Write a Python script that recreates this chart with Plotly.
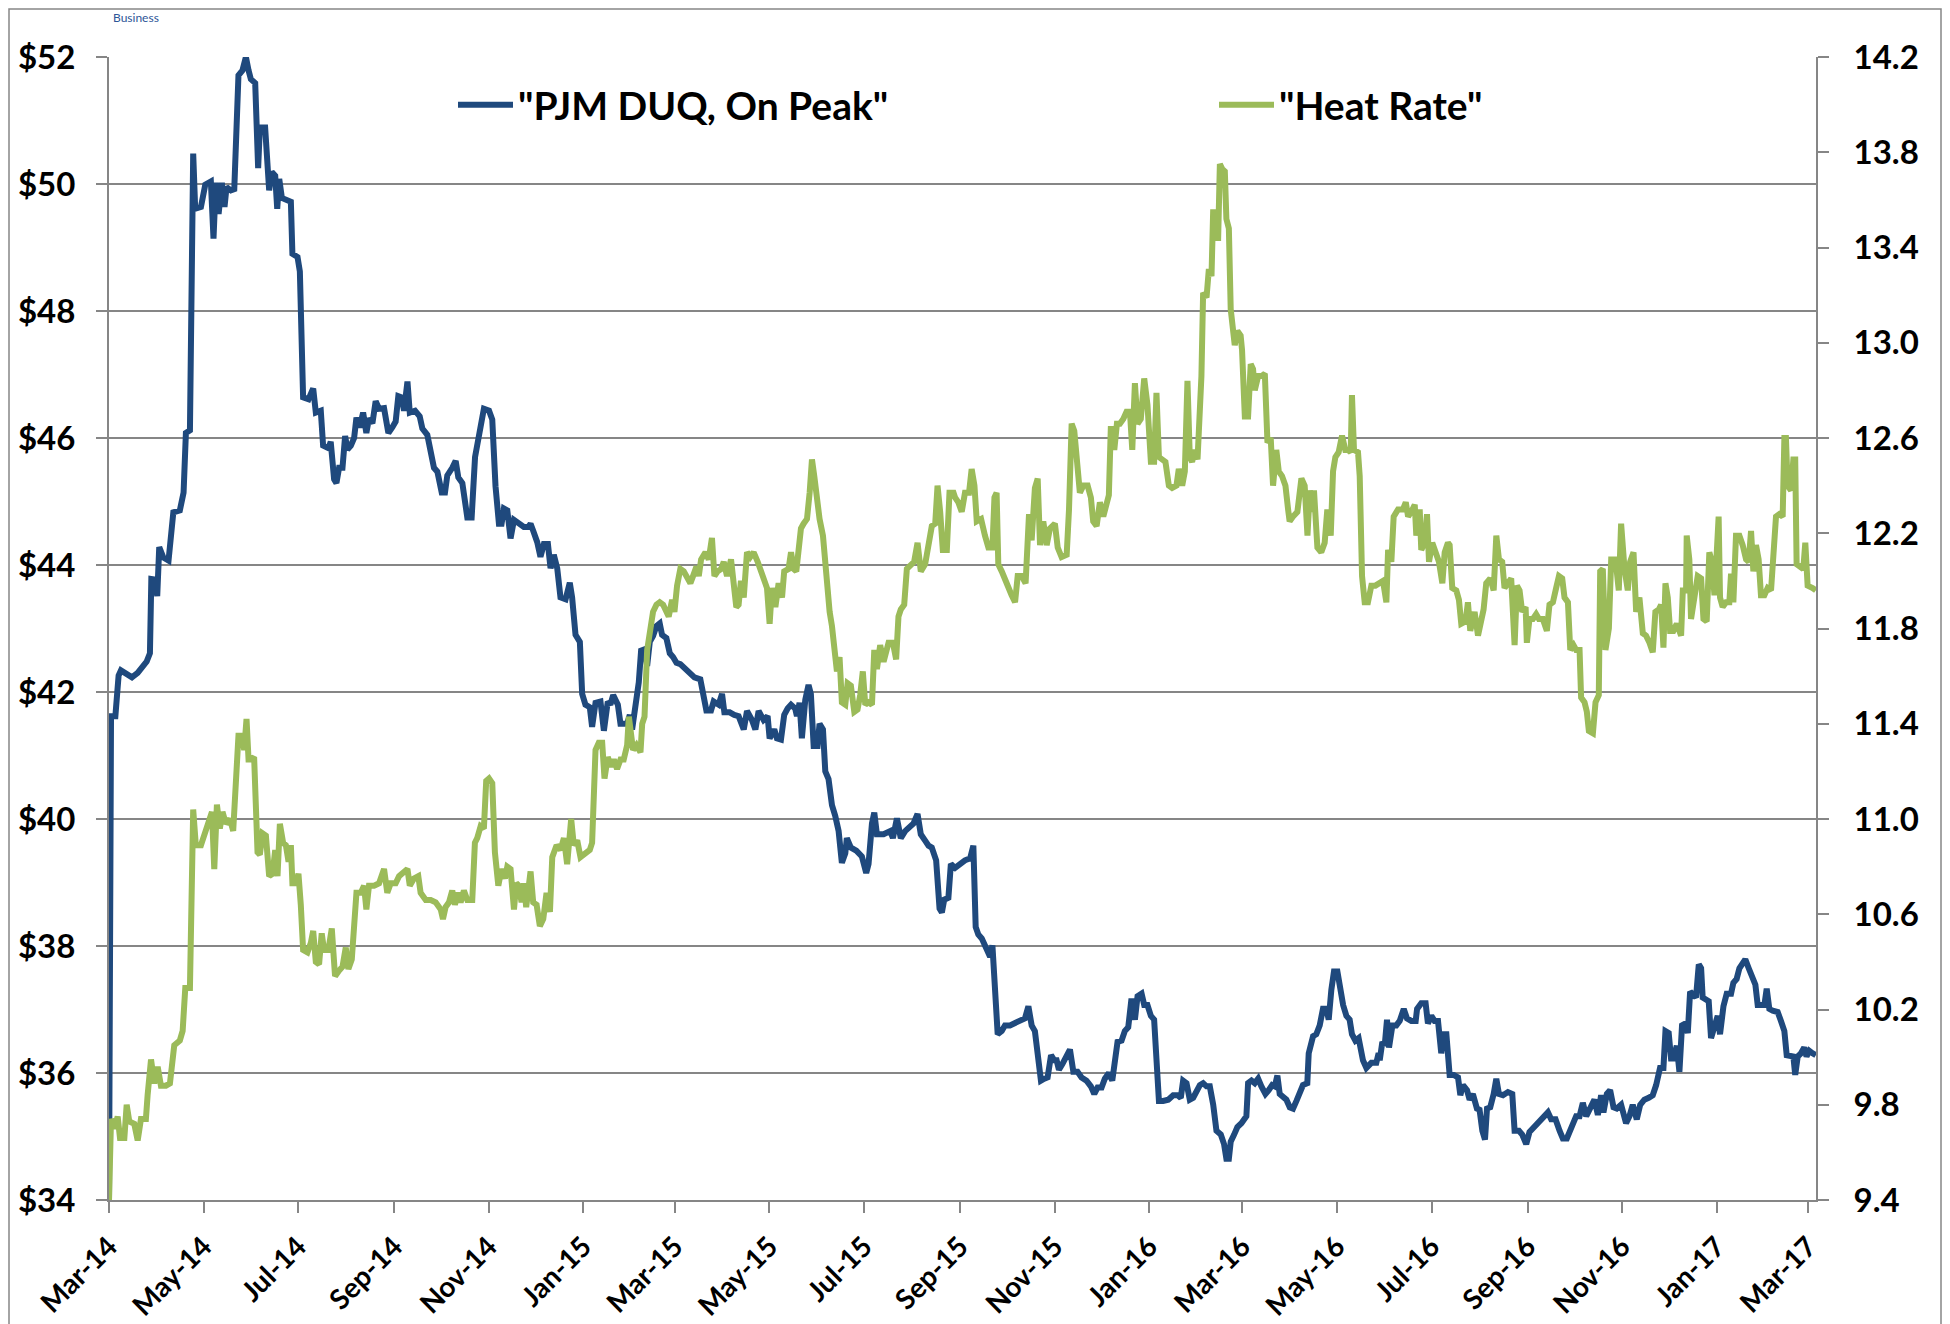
import numpy as np
import pandas as pd
import plotly.graph_objects as go

START = "2014-03-01"
END = "2017-03-06"

# ---- "PJM DUQ, On Peak" ($/MWh), day offset from START ----
pjm_days = [
    0, 1.3, 4.1, 6.2, 7.7, 11.0, 14.8, 18.5, 21.3, 24.3, 26.4, 27.3, 29.9, 31.1, 32.4, 35.0, 38.4, 41.5, 45.7, 48.1,
    49.6, 52.2, 54.3, 55.6, 59.3, 62.1, 65.7, 67.4, 68.9, 70.7, 72.8, 74.5, 75.8, 78.6, 80.8, 81.8, 83.5, 86.1, 88.3, 90.0,
    91.5, 94.3, 96.2, 97.3, 100.7, 103.3, 105.0, 107.2, 108.5, 109.8, 111.5, 117.3, 118.3, 121.6, 123.1, 125.2, 128.7, 131.7, 133.4, 136.6,
    138.1, 141.5, 143.0, 145.2, 146.7, 148.4, 150.6, 152.3, 153.8, 156.0, 158.1, 159.6, 161.7, 163.9, 166.0, 167.7, 169.9, 172.0, 174.2, 177.4,
    180.2, 182.8, 184.9, 186.6, 188.8, 190.3, 192.5, 194.0, 197.4, 200.4, 202.1, 205.3, 207.5, 209.6, 211.8, 214.6, 216.7, 218.2, 221.4, 223.6,
    225.3, 227.9, 231.1, 233.9, 236.1, 238.6, 241.8, 245.1, 247.2, 249.3, 251.5, 253.2, 254.7, 256.9, 259.0, 261.2, 264.4, 267.6, 270.4,
    271.9, 273.6, 276.2, 278.3, 280.5, 283.1, 284.8, 286.9, 289.1, 291.2, 294.5, 297.2, 298.7, 300.9, 303.7, 305.2, 307.3, 310.1, 311.6, 313.8,
    317.0, 319.2, 321.7, 323.4, 325.2, 328.2, 329.9, 334.2, 335.9, 337.4, 340.2, 341.7, 343.2, 345.4, 347.1, 348.8, 350.9, 353.1, 355.2, 356.7,
    359.5, 361.7, 363.8, 366.0, 368.5, 371.1, 374.6, 377.6, 381.4, 383.6, 385.3, 388.3, 390.0, 393.2, 395.4, 396.9, 400.3, 403.3, 406.1, 409.4,
    411.5, 414.7, 416.9, 419.0, 422.2, 424.8, 426.1, 429.1, 430.8, 433.4, 435.5, 437.7, 439.9, 442.6, 443.7, 445.4, 446.9, 449.1, 451.2, 452.7,
    454.5, 457.0, 458.3, 460.5, 462.0, 464.1, 466.3, 468.4, 470.6, 472.7, 474.9, 475.9, 478.5, 482.0, 485.6, 488.4, 489.9, 492.1, 493.6, 495.3,
    499.6, 503.9, 505.6, 508.2, 510.7, 513.5, 516.7, 518.9, 521.5, 523.6, 526.4, 528.6, 530.7, 533.5, 535.7, 537.2, 538.7, 541.4, 543.0,
    545.7, 548.9, 552.1, 555.4, 557.5, 559.0, 560.7, 562.9, 565.5, 568.3, 569.8, 571.5, 573.2, 575.8, 577.9, 581.1, 584.4, 587.6, 590.8, 593.0,
    595.1, 597.2, 599.4, 601.1, 603.3, 605.4, 607.6, 609.7, 611.2, 612.7, 614.9, 617.0, 619.8, 622.0, 624.7, 627.3, 630.5, 633.3, 635.5, 637.6,
    640.2, 642.3, 644.9, 647.1, 648.8, 650.5, 653.1, 655.2, 657.4, 659.5, 661.7, 663.4, 666.0, 667.7, 669.8, 672.0, 674.1, 675.6, 677.2, 679.9,
    683.2, 686.4, 689.2, 691.3, 692.8, 695.0, 697.1, 699.3, 701.4, 703.6, 705.7, 707.9, 710.0, 712.2, 714.3, 717.1, 719.2, 720.7, 722.3, 723.5,
    725.7, 727.8, 730.4, 733.6, 734.7, 736.9, 739.0, 741.2, 743.3, 745.9, 748.0, 750.2, 751.9, 753.6, 755.1, 757.3, 759.4, 761.6, 763.7, 765.9,
    768.0, 770.1, 772.9, 773.8, 776.6, 778.7, 780.9, 783.0, 785.2, 786.7, 788.4, 790.1, 792.3, 793.8, 796.0, 798.1, 800.2, 801.7, 803.9, 806.0,
    807.3, 808.8, 811.0, 814.2, 817.4, 818.9,
    819.6, 821.3, 822.8, 824.3, 825.6, 827.8, 830.3, 832.5, 835.1, 837.2, 840.0, 842.8, 843.7, 846.4, 849.2, 850.7, 852.9, 855.0, 857.2, 859.3,
    860.8, 862.6, 864.7, 867.3, 870.1, 871.6, 873.3, 875.9, 877.6, 879.7, 882.3, 884.0, 885.8, 887.5, 888.8, 890.9, 893.1, 894.8, 896.5, 899.1,
    902.3, 905.1, 906.6, 909.4, 911.5, 914.1, 916.2, 919.5, 922.3, 924.8, 928.1, 930.2, 933.0, 935.6, 937.7, 940.3, 943.1, 946.3, 948.5, 950.6,
    952.8, 955.3, 958.1, 960.3, 962.4, 963.9, 966.1, 968.2, 970.4, 972.5, 975.3, 978.5, 980.7, 982.8, 985.4, 987.6, 990.3, 993.1, 995.7, 997.9,
    1000.4, 1002.6, 1003.9, 1006.0, 1007.5, 1009.0, 1011.2, 1012.9, 1014.6, 1016.8, 1018.3, 1019.8, 1021.9, 1023.6, 1025.4, 1026.9, 1027.9, 1030.1, 1031.8, 1033.3,
    1035.5, 1037.6, 1039.1, 1041.3, 1043.4, 1046.2, 1047.7, 1049.8, 1051.6, 1053.7, 1055.4, 1057.6, 1059.7, 1061.9, 1063.4, 1065.5, 1067.7, 1069.2, 1070.9, 1073.1,
    1076.3, 1078.4, 1080.6, 1082.1, 1084.9, 1086.4, 1087.6, 1089.2, 1091.3, 1093.4, 1094.9, 1096.7, 1098.8, 1100.9,
]
pjm_price = [
    34.00, 41.62, 41.62, 42.26, 42.34, 42.29, 42.23, 42.30, 42.40, 42.48, 42.61, 43.78, 43.77, 43.51, 44.28, 44.12, 44.07, 44.83, 44.86, 45.14,
    46.08, 46.12, 50.48, 49.61, 49.64, 49.99, 50.04, 49.14, 50.02, 49.53, 50.02, 49.64, 49.95, 49.90, 49.92, 50.83, 51.71, 51.79, 52.00, 51.79,
    51.65, 51.59, 50.25, 50.89, 50.89, 49.90, 50.19, 50.13, 49.61, 50.08, 49.78, 49.72, 48.90, 48.85, 48.62, 46.64, 46.61, 46.78, 46.40, 46.43,
    45.88, 45.84, 45.94, 45.35, 45.29, 45.53, 45.53, 46.03, 45.82, 45.88, 46.00, 46.32, 46.17, 46.40, 46.08, 46.31, 46.23, 46.58, 46.46, 46.47,
    46.08, 46.17, 46.26, 46.66, 46.64, 46.43, 46.89, 46.40, 46.43, 46.34, 46.15, 46.05, 45.76, 45.53, 45.47, 45.14, 45.14, 45.41, 45.53, 45.64,
    45.38, 45.29, 44.75, 44.75, 45.70, 46.05, 46.46, 46.43, 46.29, 45.24, 44.65, 44.65, 44.89, 44.86, 44.42, 44.71, 44.65, 44.60, 44.60,
    44.65, 44.54, 44.36, 44.13, 44.33, 44.33, 43.95, 44.16, 43.95, 43.49, 43.46, 43.72, 43.49, 42.90, 42.79, 41.97, 41.80, 41.76, 41.45, 41.83,
    41.85, 41.39, 41.85, 41.80, 41.95, 41.80, 41.50, 41.50, 41.64, 41.41, 41.91, 42.15, 42.65, 42.67, 42.41, 42.79, 42.88, 43.04, 43.08, 42.90,
    42.85, 42.61, 42.55, 42.46, 42.44, 42.38, 42.29, 42.23, 42.20, 41.97, 41.71, 41.71, 41.85, 41.80, 41.97, 41.68, 41.68, 41.64, 41.62, 41.41,
    41.70, 41.56, 41.41, 41.70, 41.56, 41.62, 41.27, 41.41, 41.27, 41.25, 41.64, 41.74, 41.80, 41.74, 41.62, 41.83, 41.27, 41.88, 42.11, 41.97,
    41.15, 41.15, 41.50, 41.41, 40.75, 40.63, 40.22, 40.05, 39.81, 39.31, 39.46, 39.70, 39.55, 39.50, 39.41, 39.15, 39.29, 39.93, 40.10, 39.76,
    39.76, 39.81, 39.70, 40.01, 39.70, 39.81, 39.90, 39.93, 40.08, 39.76, 39.66, 39.58, 39.55, 39.35, 38.59, 38.53, 38.73, 38.76, 39.29,
    39.23, 39.29, 39.35, 39.38, 39.58, 38.30, 38.18, 38.12, 37.95, 37.83, 38.01, 37.25, 36.61, 36.66, 36.75, 36.75, 36.78, 36.82, 36.86, 37.05,
    36.75, 36.66, 36.26, 35.88, 35.91, 35.93, 36.28, 36.20, 36.20, 36.05, 36.14, 36.26, 36.37, 36.02, 36.02, 35.93, 35.88, 35.79, 35.67, 35.77,
    35.77, 35.91, 36.00, 35.88, 36.20, 36.49, 36.51, 36.66, 36.72, 37.17, 36.84, 37.21, 37.25, 37.07, 37.07, 36.90, 36.84, 36.31, 35.56, 35.56,
    35.58, 35.65, 35.65, 35.61, 35.88, 35.84, 35.58, 35.61, 35.73, 35.81, 35.84, 35.79, 35.79, 35.50, 35.09, 35.03, 34.88, 34.65, 34.65, 34.92,
    35.03, 35.15, 35.21, 35.32, 35.84, 35.88, 35.84, 35.91, 35.79, 35.67, 35.73, 35.81, 35.79, 35.96, 35.67, 35.61, 35.58, 35.46, 35.44, 35.56,
    35.70, 35.81, 35.84, 36.31, 36.58, 36.61, 36.75, 37.01, 37.01, 36.84, 37.31, 37.60, 37.60, 37.36, 37.07, 36.90, 36.84, 36.61, 36.51, 36.55,
    36.37, 36.20, 36.08, 36.16, 36.16, 36.31,
    36.20, 36.49, 36.43, 36.84, 36.40, 36.75, 36.75, 36.82, 37.01, 36.86, 36.82, 36.82, 37.01, 37.10, 37.10, 36.78, 36.90, 36.82, 36.82, 36.31,
    36.61, 36.61, 35.97, 35.97, 35.93, 35.65, 35.81, 35.73, 35.58, 35.67, 35.44, 35.42, 35.09, 34.95, 35.44, 35.46, 35.67, 35.91, 35.67, 35.65,
    35.70, 35.67, 35.09, 35.09, 35.03, 34.88, 35.07, 35.15, 35.23, 35.27, 35.38, 35.27, 35.27, 35.09, 34.97, 34.97, 35.15, 35.32, 35.32, 35.53,
    35.32, 35.44, 35.58, 35.34, 35.65, 35.38, 35.67, 35.73, 35.46, 35.44, 35.50, 35.21, 35.32, 35.50, 35.27, 35.50, 35.58, 35.61, 35.65, 35.81,
    36.08, 36.08, 36.66, 36.63, 36.23, 36.23, 36.43, 36.02, 36.75, 36.78, 36.63, 37.28, 37.21, 37.19, 37.71, 37.65, 37.19, 37.17, 37.13, 36.55,
    36.72, 36.90, 36.61, 37.05, 37.25, 37.25, 37.42, 37.48, 37.65, 37.71, 37.79, 37.65, 37.51, 37.39, 37.07, 37.07, 37.07, 37.33, 37.01, 36.98,
    36.96, 36.82, 36.66, 36.28, 36.26, 36.26, 35.97, 36.26, 36.31, 36.40, 36.26, 36.35, 36.31, 36.28,
]

# ---- "Heat Rate", day offset from START ----
hr_days = [
    0, 1.3, 3.4, 5.6, 7.1, 9.9, 11.4, 13.1, 16.3, 18.5, 20.6, 23.8, 24.9, 27.1, 29.2, 31.4, 33.5, 36.7, 39.3, 42.1,
    45.7, 47.5, 49.2, 52.2, 54.3, 56.0, 59.3, 62.5, 64.6, 66.4, 67.9, 69.6, 71.5, 73.2, 75.4, 78.0, 80.1, 81.8, 83.5, 85.7,
    87.2, 88.7, 90.0, 91.5, 93.6, 95.8, 97.3, 99.0, 101.2, 103.3, 105.5, 107.2, 108.7, 110.2, 112.3, 114.1, 115.8, 117.3, 118.3, 120.5,
    122.2, 123.7, 125.2, 128.0, 130.2, 131.7, 133.4, 135.5, 137.2, 138.7, 141.5, 143.7, 145.8, 148.0, 150.6, 152.7, 154.4, 156.6, 158.1, 159.6,
    162.4, 164.5, 166.0, 167.7, 171.0, 174.2, 177.4, 179.5, 181.7, 184.9, 187.1, 190.3, 192.5, 194.0, 196.7, 199.5, 201.0, 204.3, 207.5, 210.7,
    214.0, 215.4, 217.1, 219.3, 221.4, 223.1, 225.3, 226.8, 228.9, 231.1, 234.3, 236.0, 237.5, 239.7, 241.8, 243.3, 245.1, 247.2, 248.9, 251.1,
    253.2, 255.4, 256.9, 259.0, 261.2, 262.7, 264.4, 266.1, 267.6, 269.1, 271.3,
    271.9, 273.6, 275.8, 277.9, 280.1, 282.2, 284.4, 285.9, 288.7, 291.2, 293.4, 295.5, 298.1, 299.8, 302.0, 304.1, 307.3, 310.1, 311.6, 313.8,
    315.9, 318.1, 319.6, 321.7, 323.9, 325.6, 327.7, 329.9, 332.0, 334.2, 335.3, 336.3, 338.0, 340.2, 342.8, 343.9, 345.4, 347.1, 348.8, 350.9,
    353.1, 355.2, 357.4, 359.5, 361.0, 363.2, 364.7, 366.4, 368.5, 370.7, 372.8, 375.0, 376.7, 378.9, 380.4, 381.9, 384.7, 386.8, 388.9, 390.5,
    392.6, 394.8, 396.5, 398.6, 401.2, 403.3, 404.6, 406.1, 407.6, 409.4, 411.5, 413.6, 415.8, 418.4, 420.1, 422.2, 424.4, 426.1, 427.6, 429.8,
    431.9, 434.1, 435.5, 438.3, 439.9, 441.6, 443.3, 444.8, 446.3, 448.0, 450.2, 451.9, 453.4, 454.9, 456.6, 458.3, 460.5, 462.6, 464.8, 466.3,
    467.8, 469.5, 471.2, 472.7, 474.9, 476.4, 478.5, 480.7, 482.8, 484.5, 486.2, 487.8, 489.9, 492.1, 493.6, 495.3, 497.4, 499.6, 502.8, 505.6,
    507.7, 509.2, 510.7, 512.9, 514.6, 517.2, 519.3, 521.5, 523.6, 526.4, 528.6, 530.7, 532.9, 534.4, 536.1, 537.8, 540.4, 542.1, 544.7,
    545.7, 547.8, 550.0, 552.1, 554.7, 556.4, 558.2, 559.7, 562.5, 565.0, 567.2, 569.8, 571.1, 572.5, 573.6, 575.8, 577.5, 580.1, 582.2, 584.4,
    586.1, 588.7, 591.2, 593.4, 595.1, 597.2, 599.0, 600.5, 602.6, 604.8, 606.9, 610.1, 611.9, 614.4, 617.7, 619.2, 620.9, 622.6, 624.1, 626.2,
    628.4, 631.2, 633.3, 634.8, 637.0, 639.1, 641.3, 643.4, 644.9, 646.2, 648.4, 650.1, 652.0, 654.2, 656.3, 658.5, 660.0, 661.7, 663.4, 665.5,
    667.7, 669.8, 672.0, 674.1, 675.6, 677.2, 678.9, 681.4, 683.6, 685.7, 688.5, 690.0, 692.2, 693.9, 695.6, 697.1, 698.6, 700.3, 702.1, 703.6,
    704.6, 705.7, 707.9, 709.4, 711.1, 712.2, 714.3, 715.4, 716.5, 718.0, 719.7, 720.7, 722.3, 723.5, 726.1, 727.8, 729.9, 730.8, 732.6, 734.7,
    736.4, 737.9, 739.0, 741.2, 743.3, 745.5, 747.2, 749.3, 750.8, 752.9, 754.5, 756.6, 758.8, 760.5, 761.5, 763.7, 766.5, 769.1, 771.2, 773.0,
    774.5, 776.0, 777.2, 779.4, 781.9, 784.1, 785.8, 788.0, 789.5, 791.0, 793.1, 795.3, 797.4, 799.2, 800.9, 801.7, 803.0, 805.6, 806.7, 808.2,
    809.9, 812.0, 814.2, 816.8,
    819.6, 821.7, 823.9, 825.0, 827.1, 828.6, 831.4, 834.6, 836.4, 837.9, 840.0, 842.2, 843.2, 845.4, 846.4, 848.6, 850.1, 851.4, 853.5, 855.7,
    857.8, 860.0, 861.5, 863.6, 864.7, 866.4, 869.0, 870.7, 872.2, 875.0, 876.5, 878.0, 880.8, 883.0, 885.1, 886.6, 888.3, 890.9, 893.1, 894.8,
    896.5, 898.6, 900.1, 902.3, 904.4, 906.6, 908.1, 909.8, 911.5, 913.7, 914.5, 916.2, 918.4, 920.5, 922.3, 924.8, 927.4, 929.1, 931.3, 933.4,
    935.2, 937.3, 938.8, 941.0, 942.5, 944.6, 946.3, 948.5, 949.5, 951.7, 953.2, 954.5, 957.1, 958.8, 960.9, 961.8, 963.5, 965.2, 967.4, 968.9,
    971.7, 973.8, 975.3, 977.5, 979.6, 981.1, 983.3, 985.0, 987.1, 989.3, 991.4, 993.6, 995.7, 997.4, 999.6, 1001.1, 1002.6, 1003.9, 1005.4, 1006.9,
    1009.0, 1011.2, 1014.0, 1015.1, 1017.2, 1017.6, 1019.3, 1020.4, 1022.6, 1024.7, 1026.9, 1028.4, 1030.5, 1032.2, 1033.9, 1035.5, 1037.0, 1038.2, 1039.1, 1040.8,
    1043.0, 1045.1, 1046.2, 1047.7, 1049.4, 1051.6, 1053.7, 1055.9, 1057.6, 1059.1, 1060.6, 1062.3, 1064.0, 1065.5, 1067.7, 1069.8, 1072.0, 1073.5, 1075.2, 1077.3,
    1079.5, 1080.6, 1081.6, 1082.7, 1084.9, 1086.4, 1087.6, 1088.5, 1090.6, 1092.8, 1094.1, 1095.6, 1098.8, 1100.9,
]
heat_rate = [
    9.40, 9.74, 9.70, 9.75, 9.66, 9.66, 9.80, 9.73, 9.72, 9.65, 9.74, 9.74, 9.84, 9.99, 9.89, 9.96, 9.88, 9.88, 9.89, 10.05,
    10.07, 10.11, 10.29, 10.29, 11.04, 10.89, 10.89, 10.95, 11.00, 11.03, 10.79, 11.06, 10.96, 11.03, 10.98, 11.00, 10.95, 11.17, 11.35, 11.35,
    11.29, 11.42, 11.25, 11.25, 11.26, 10.86, 10.85, 10.94, 10.93, 10.76, 10.77, 10.87, 10.76, 10.98, 10.90, 10.89, 10.82, 10.89, 10.73, 10.73,
    10.77, 10.64, 10.45, 10.44, 10.48, 10.53, 10.40, 10.39, 10.52, 10.45, 10.45, 10.54, 10.34, 10.36, 10.38, 10.46, 10.37, 10.41, 10.59, 10.69,
    10.69, 10.72, 10.62, 10.72, 10.72, 10.73, 10.79, 10.69, 10.73, 10.73, 10.76, 10.78, 10.79, 10.72, 10.75, 10.76, 10.69, 10.66, 10.66, 10.65,
    10.62, 10.58, 10.63, 10.65, 10.70, 10.64, 10.69, 10.65, 10.70, 10.66, 10.66, 10.90, 10.92, 10.97, 10.96, 11.16, 11.17, 11.15, 10.86, 10.72,
    10.79, 10.75, 10.80, 10.79, 10.62, 10.73, 10.72, 10.65, 10.73, 10.63, 10.78,
    10.78, 10.65, 10.64, 10.55, 10.58, 10.69, 10.61, 10.84, 10.89, 10.87, 10.92, 10.81, 11.00, 10.89, 10.91, 10.84, 10.86, 10.87, 10.90, 11.29,
    11.32, 11.32, 11.17, 11.26, 11.22, 11.25, 11.21, 11.25, 11.25, 11.31, 11.43, 11.35, 11.29, 11.31, 11.28, 11.40, 11.43, 11.71, 11.77, 11.87,
    11.90, 11.91, 11.90, 11.87, 11.85, 11.92, 11.87, 11.98, 12.05, 12.04, 12.02, 11.99, 12.02, 12.06, 12.02, 12.09, 12.12, 12.09, 12.18, 12.02,
    12.04, 12.05, 12.08, 12.02, 12.09, 11.99, 11.89, 11.90, 12.00, 11.93, 12.12, 12.10, 12.12, 12.08, 12.05, 12.00, 11.97, 11.82, 11.97, 11.89,
    11.99, 11.93, 12.04, 12.05, 12.12, 12.05, 12.04, 12.13, 12.22, 12.24, 12.26, 12.37, 12.51, 12.44, 12.33, 12.26, 12.19, 11.99, 11.87, 11.81,
    11.71, 11.62, 11.68, 11.49, 11.48, 11.57, 11.56, 11.45, 11.46, 11.52, 11.62, 11.48, 11.49, 11.48, 11.71, 11.63, 11.73, 11.66, 11.74, 11.74,
    11.67, 11.85, 11.88, 11.90, 12.05, 12.07, 12.08, 12.16, 12.04, 12.07, 12.16, 12.23, 12.24, 12.40, 12.29, 12.13, 12.13, 12.37, 12.37,
    12.35, 12.33, 12.29, 12.37, 12.37, 12.47, 12.40, 12.25, 12.26, 12.19, 12.14, 12.14, 12.35, 12.37, 12.07, 12.04, 12.01, 11.97, 11.94, 11.91,
    12.02, 12.02, 11.99, 12.28, 12.17, 12.39, 12.43, 12.15, 12.25, 12.15, 12.22, 12.24, 12.14, 12.10, 12.11, 12.30, 12.66, 12.63, 12.49, 12.37,
    12.40, 12.40, 12.35, 12.25, 12.23, 12.33, 12.27, 12.34, 12.36, 12.65, 12.55, 12.66, 12.66, 12.68, 12.71, 12.71, 12.55, 12.83, 12.66, 12.68,
    12.85, 12.74, 12.50, 12.50, 12.79, 12.52, 12.51, 12.50, 12.40, 12.39, 12.40, 12.47, 12.40, 12.46, 12.84, 12.52, 12.50, 12.55, 12.51, 12.71,
    12.86, 13.21, 13.19, 13.31, 13.28, 13.56, 13.44, 13.44, 13.75, 13.73, 13.72, 13.52, 13.48, 13.14, 12.99, 13.05, 13.03, 12.97, 12.69, 12.69,
    12.91, 12.89, 12.80, 12.86, 12.86, 12.87, 12.58, 12.60, 12.40, 12.55, 12.46, 12.44, 12.40, 12.30, 12.25, 12.27, 12.29, 12.43, 12.40, 12.19,
    12.38, 12.29, 12.38, 12.14, 12.12, 12.16, 12.30, 12.19, 12.46, 12.52, 12.54, 12.61, 12.55, 12.55, 12.54, 12.78, 12.55, 12.54, 12.44, 12.02,
    11.91, 11.91, 11.98, 11.98,
    11.99, 12.00, 11.91, 12.13, 12.08, 12.27, 12.30, 12.30, 12.33, 12.27, 12.29, 12.32, 12.19, 12.30, 12.13, 12.16, 12.28, 12.08, 12.16, 12.12,
    12.08, 11.99, 12.12, 12.16, 12.15, 11.97, 11.96, 11.92, 11.82, 11.83, 11.91, 11.79, 11.87, 11.77, 11.84, 11.88, 11.99, 12.01, 11.96, 12.19,
    12.09, 12.08, 11.97, 11.99, 12.01, 11.73, 11.98, 11.96, 11.87, 11.89, 11.74, 11.84, 11.84, 11.86, 11.84, 11.84, 11.79, 11.90, 11.91, 11.97,
    12.02, 12.01, 11.93, 11.91, 11.71, 11.73, 11.71, 11.71, 11.51, 11.49, 11.45, 11.37, 11.36, 11.49, 11.52, 12.04, 12.05, 11.71, 11.80, 12.09,
    12.09, 11.96, 12.24, 12.05, 11.96, 12.08, 12.12, 11.87, 11.93, 11.78, 11.77, 11.74, 11.70, 11.87, 11.88, 11.90, 11.72, 11.99, 11.93, 11.79,
    11.79, 11.82, 11.77, 11.96, 11.96, 12.19, 12.09, 11.84, 11.93, 12.02, 12.01, 11.84, 11.83, 12.12, 12.08, 11.94, 12.12, 12.27, 11.93, 11.89,
    11.91, 11.91, 12.03, 11.91, 12.19, 12.19, 12.15, 12.09, 12.08, 12.21, 12.04, 12.15, 12.09, 11.94, 11.94, 11.97, 11.96, 12.12, 12.27, 12.28,
    12.27, 12.60, 12.60, 12.40, 12.38, 12.51, 12.51, 12.07, 12.06, 12.05, 12.16, 11.98, 11.97, 11.96,
]


def to_dates(days):
    return pd.Timestamp(START) + pd.to_timedelta(np.asarray(days, dtype=float), unit="D")


GRID = "#868686"
FONT = "Lato"
tickfont = dict(family=FONT, size=33, color="black", weight="bold")
xtickfont = dict(family=FONT, size=28, color="black", weight="bold")

fig = go.Figure()
fig.add_trace(go.Scatter(
    x=to_dates(pjm_days), y=pjm_price, mode="lines", name='"PJM DUQ, On Peak"',
    line=dict(color="#1F497D", width=6),
))
fig.add_trace(go.Scatter(
    x=to_dates(hr_days), y=heat_rate, mode="lines", name='"Heat Rate"',
    line=dict(color="#9BBB59", width=6), yaxis="y2",
))

# The page body adds an 8 px offset, so the figure is 8 px smaller than the window.
OFF = 8
W, H = 1950 - OFF, 1324 - OFF
L, T = 109 - OFF, 57 - OFF
pw, ph = 1707, 1143
R, B = W - L - pw, H - T - ph


def px(xp):  # page pixel -> paper x
    return (xp - OFF - L) / pw


def py(yp):  # page pixel -> paper y
    return (T + ph - (yp - OFF)) / ph


fig.update_layout(
    width=W, height=H,
    margin=dict(l=L, r=R, t=T, b=B, autoexpand=False),
    paper_bgcolor="white", plot_bgcolor="white",
    showlegend=True,
    legend=dict(
        orientation="h", x=px(453), xanchor="left", y=py(105), yanchor="middle",
        font=dict(family=FONT, size=39, color="black", weight="bold"),
        bgcolor="rgba(0,0,0,0)", itemwidth=55, entrywidth=691, entrywidthmode="pixels",
        traceorder="normal",
    ),
    xaxis=dict(
        type="date", range=[START, END], dtick="M2", tick0="2014-03-01", tickformat="%b-%y",
        tickangle=-45, ticks="outside", ticklen=11, tickwidth=1.5, tickcolor=GRID,
        showline=True, linecolor=GRID, linewidth=2, showgrid=False, zeroline=False,
        tickfont=xtickfont, ticklabelstandoff=6,
    ),
    yaxis=dict(
        range=[34, 52], dtick=2, tick0=34, tickprefix="$", tickformat="d",
        showgrid=True, gridcolor=GRID, gridwidth=1.6,
        ticks="outside", ticklen=11, tickwidth=1.5, tickcolor=GRID,
        showline=True, linecolor=GRID, linewidth=2, zeroline=False,
        tickfont=tickfont, ticklabelstandoff=14,
    ),
    yaxis2=dict(
        overlaying="y", side="right", range=[9.4, 14.2], dtick=0.4, tick0=9.4, tickformat=".1f",
        showgrid=False, ticks="outside", ticklen=11, tickwidth=1.5, tickcolor=GRID,
        showline=True, linecolor=GRID, linewidth=2, zeroline=False,
        tickfont=tickfont, ticklabelstandoff=18,
    ),
    shapes=[dict(
        type="rect", xref="paper", yref="paper",
        x0=px(9), x1=px(1941), y0=py(1340), y1=py(9),
        line=dict(color=GRID, width=1.5), fillcolor="rgba(0,0,0,0)", layer="below",
    )],
    annotations=[dict(
        text="Business", xref="paper", yref="paper", x=px(112), y=py(9),
        xanchor="left", yanchor="top", showarrow=False, borderpad=0,
        font=dict(family=FONT, size=12, color="#2E5597"),
    )],
)

fig.write_html("out.html")
